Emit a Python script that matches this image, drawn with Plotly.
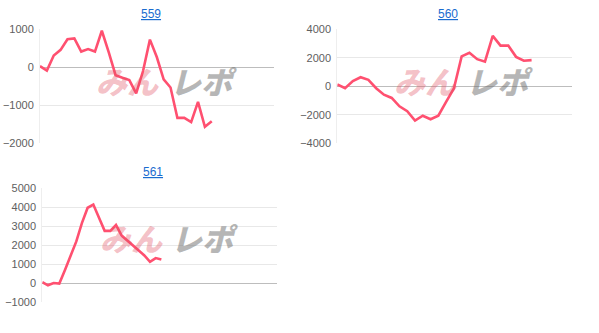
import plotly.graph_objects as go

W, H = 599, 333

# ---- data ----
titles = ["559", "560", "561"]
values_559 = [30, -90, 310, 460, 740, 760, 415, 480, 415, 965, 400, -210, -280, -340,
              -690, -100, 730, 270, -320, -535, -1340, -1340, -1450, -915, -1575, -1425]
values_560 = [136, -136, 364, 636, 455, -136, -590, -820, -1410, -1750, -2410, -2070,
              -2320, -2070, -1100, -150, 2100, 2360, 1910, 1730, 3550, 2860, 2860, 2070,
              1800, 1840]
values_561 = [50, -120, 0, -30, 695, 1407, 2200, 3180, 3980, 4150, 3460, 2760, 2760,
              3070, 2510, 2250, 2000, 1710, 1460, 1120, 1320, 1240]
y_ticks_559 = [-2000, -1000, 0, 1000]
y_ticks_560 = [-4000, -2000, 0, 2000, 4000]
y_ticks_561 = [-1000, 0, 1000, 2000, 3000, 4000, 5000]

LINE = "#ff5070"


def px_x(p):
    return p / W


def px_y(p):
    return 1 - p / H


panels = [
    # values, yticks, x-range max, plot box (left, right, top, bottom) px
    (values_559, y_ticks_559, 34.06, (40, 274, 24.3, 142.0)),
    (values_560, y_ticks_560, 30.2, (337.3, 572, 24.3, 142.3)),
    (values_561, y_ticks_561, 41.4, (42.3, 277, 189.3, 307.0)),
]

fig = go.Figure()
layout = dict(
    width=W, height=H, margin=dict(l=0, r=0, t=0, b=0),
    paper_bgcolor="white", plot_bgcolor="white", showlegend=False,
)
annotations = []

for i, (vals, ticks, xmax, (l, r, t, b)) in enumerate(panels):
    n = "" if i == 0 else str(i + 1)
    fig.add_trace(go.Scatter(
        x=list(range(len(vals))), y=vals, mode="lines",
        line=dict(color=LINE, width=2.6), xaxis="x" + n, yaxis="y" + n,
        hoverinfo="skip",
    ))
    layout["xaxis" + n] = dict(
        domain=[px_x(l), px_x(r)], range=[0, xmax], anchor="y" + n,
        showgrid=False, zeroline=False, showticklabels=False, ticks="",
        showline=False,
    )
    layout["yaxis" + n] = dict(
        domain=[px_y(b), px_y(t)], range=[ticks[0], ticks[-1]], anchor="x" + n,
        tickvals=ticks, showgrid=True, gridcolor="#e8e8e8", gridwidth=1,
        zeroline=True, zerolinecolor="#bdbdbd", zerolinewidth=1,
        showline=True, linecolor="#eeeeee", linewidth=1,
        ticks="", tickfont=dict(family="Liberation Sans, Arial", size=11, color="#606060"),
        ticklabelstandoff=3,
    )

# titles
title_pos = [(151, 8.5), (447.7, 8.5), (152.7, 172.5)]
for txt, (cx, cy) in zip(titles, title_pos):
    annotations.append(dict(
        text=txt, x=px_x(cx), y=px_y(cy), xref="paper", yref="paper",
        showarrow=False, xanchor="center", yanchor="middle",
        font=dict(family="Liberation Sans, Arial", size=12, color="#1a6ccf",
                  lineposition="under"),
    ))

# watermark
wm_pos = [((127.5, 77), (203, 77)), ((425, 77), (499, 77)), ((131, 240), (204, 240))]
for (pk, gr) in wm_pos:
    annotations.append(dict(
        text="みん", x=px_x(pk[0]), y=px_y(pk[1]), xref="paper", yref="paper",
        showarrow=False, xanchor="center", yanchor="middle",
        font=dict(family="Noto Sans CJK JP", size=31, color="rgba(225,80,95,0.36)",
                  style="italic", weight=900),
    ))
    annotations.append(dict(
        text="レポ", x=px_x(gr[0]), y=px_y(gr[1]), xref="paper", yref="paper",
        showarrow=False, xanchor="center", yanchor="middle",
        font=dict(family="Noto Sans CJK JP", size=31, color="rgba(110,110,110,0.5)",
                  style="italic", weight=900),
    ))

layout["annotations"] = annotations
fig.update_layout(**layout)
fig.write_html("out.html")
